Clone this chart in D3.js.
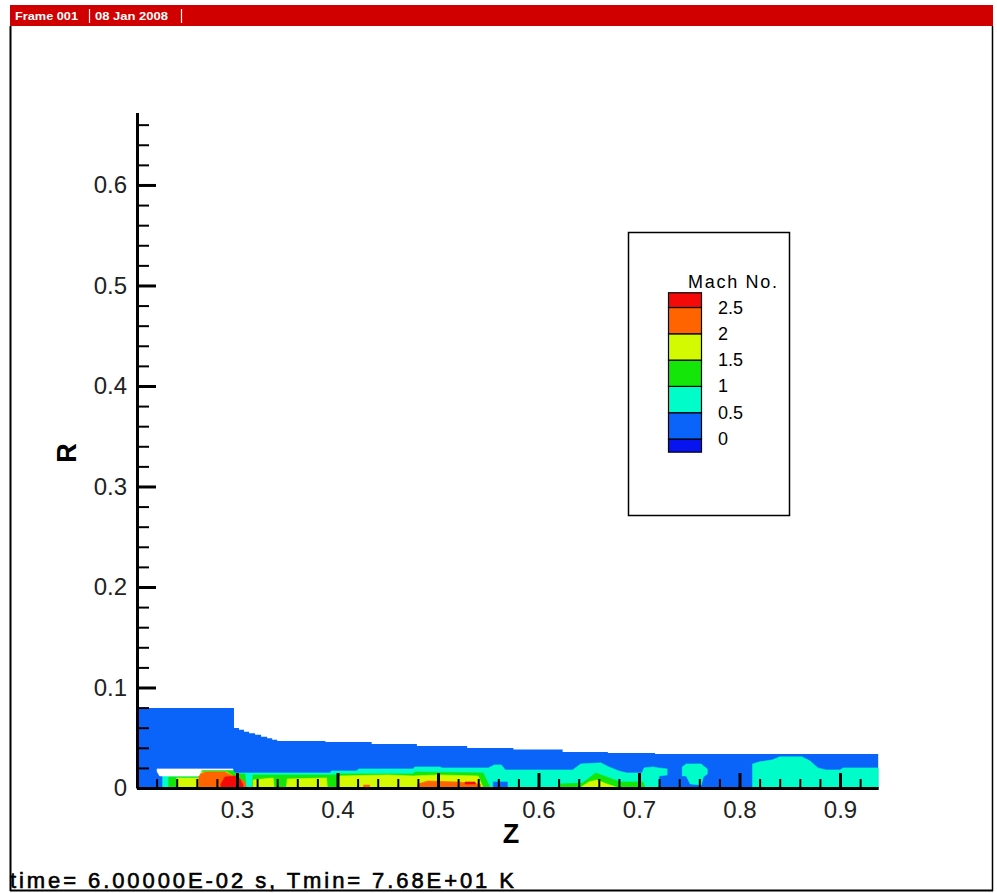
<!DOCTYPE html>
<html><head><meta charset="utf-8">
<script src="https://cdn.jsdelivr.net/npm/d3@7"></script>
<style>
body{margin:0;background:#fff}
svg{display:block}
text{font-family:"Liberation Sans",Arial,Helvetica,sans-serif}
</style>
</head><body>
<svg id="c" width="997" height="893"></svg>
<script>
// ---------------- data ----------------
const machLevels = [0, 0.5, 1, 1.5, 2, 2.5];
const machColors = ["#0814f0", "#0a64fa", "#00fcc8", "#14e60a", "#d4fa00", "#ff6400", "#f50a0a"];
const legendLabels = ["2.5", "2", "1.5", "1", "0.5", "0"];
const legendTitle = "Mach No.";
const headerTexts = ["Frame 001", "08 Jan 2008"];
const footerText = "time= 6.00000E-02 s, Tmin= 7.68E+01 K";
const xTitle = "Z", yTitle = "R";

const xMajor = [0.3, 0.4, 0.5, 0.6, 0.7, 0.8, 0.9];
const xMinor = [0.22,0.24,0.26,0.28,0.32,0.34,0.36,0.38,0.42,0.44,0.46,0.48,0.52,0.54,0.56,0.58,0.62,0.64,0.66,0.68,0.72,0.74,0.76,0.78,0.82,0.84,0.86,0.88,0.92];
const yMajor = [0, 0.1, 0.2, 0.3, 0.4, 0.5, 0.6];
const yMinor = [0.02,0.04,0.06,0.08,0.12,0.14,0.16,0.18,0.22,0.24,0.26,0.28,0.32,0.34,0.36,0.38,0.42,0.44,0.46,0.48,0.52,0.54,0.56,0.58,0.62,0.64,0.66];
const zExtent = [0.2, 0.938];
const rExtent = [0, 0.672];

// outer boundary of the computational domain  [z, r]
const domainTop = [[0.2,0.0796],[0.297,0.0597],[0.302,0.058],[0.307,0.056],[0.312,0.0545],[0.318,0.053],[0.324,0.051],[0.330,0.0495],[0.335,0.048],[0.340,0.0468],[0.388,0.0458],[0.434,0.0438],[0.479,0.0418],[0.529,0.0398],[0.575,0.0383],[0.624,0.0358],[0.669,0.0348],[0.716,0.0338],[0.938,0.0338]];
const domainMach = 0.25;

// Mach bands: segments of [z, rLow, rHigh]
const cyanSegs = [
  [[0.226,0,0.012],[0.262,0,0.012],[0.265,0,0.018],[0.296,0,0.018],[0.297,0,0.015],[0.3925,0,0.015],[0.394,0,0.017],[0.419,0,0.017],[0.421,0,0.019],[0.475,0,0.019],[0.477,0,0.021],[0.502,0,0.021],[0.504,0,0.020],[0.550,0,0.020],[0.556,0,0.023],[0.563,0,0.023],[0.567,0,0.018],[0.634,0,0.018],[0.642,0,0.024],[0.662,0,0.025],[0.670,0,0.021],[0.680,0,0.017],[0.688,0,0.015],[0.703,0,0.015],[0.705,0,0.020],[0.714,0,0.021],[0.719,0,0.020],[0.720,0.012,0.020],[0.728,0.013,0.019]],
  [[0.743,0.012,0.021],[0.747,0.012,0.024],[0.751,0.004,0.024],[0.762,0.003,0.024],[0.764,0.011,0.022],[0.768,0.014,0.019]],
  [[0.813,0,0.024],[0.820,0,0.026],[0.833,0,0.028],[0.840,0,0.031],[0.862,0,0.031],[0.870,0,0.027],[0.878,0,0.020],[0.886,0,0.018],[0.900,0,0.018],[0.903,0,0.020],[0.938,0,0.020]]
];
const greenSegs = [
  [[0.232,0,0.011],[0.262,0,0.011],[0.265,0,0.018],[0.296,0,0.018],[0.298,0,0.014],[0.308,0,0.014],[0.309,0,0]],
  [[0.315,0,0],[0.316,0,0.013],[0.400,0,0.013],[0.402,0,0.014],[0.475,0,0.014],[0.477,0,0.016],[0.545,0,0.015],[0.552,0,0]],
  [[0.621,0,0.004],[0.644,0,0.005],[0.657,0,0.015],[0.681,0,0.006],[0.704,0,0.006],[0.706,0,0]]
];
const yellowSegs = [
  [[0.240,0,0.010],[0.262,0,0.010],[0.265,0,0.016],[0.290,0,0.016],[0.296,0,0.012],[0.297,0,0]],
  [[0.316,0,0.008],[0.336,0,0.010],[0.337,0,0]],
  [[0.349,0,0],[0.350,0,0.009],[0.389,0,0.010],[0.390,0,0]],
  [[0.401,0,0],[0.402,0,0.012],[0.450,0,0.013],[0.475,0,0.012],[0.500,0,0.013],[0.540,0,0.012],[0.545,0,0]],
  [[0.641,0,0],[0.650,0,0.006],[0.658,0,0.008],[0.668,0,0.004],[0.680,0,0]]
];
const orangeSegs = [
  [[0.262,0,0.013],[0.268,0,0.016],[0.288,0,0.016],[0.296,0,0.012],[0.300,0,0.011],[0.308,0,0.006],[0.309,0,0]],
  [[0.426,0,0.003],[0.432,0,0.003]],
  [[0.480,0,0.004],[0.490,0,0.007],[0.520,0,0.006],[0.542,0,0.004],[0.543,0,0]]
];
const redSegs = [
  [[0.284,0,0.004],[0.288,0,0.011],[0.298,0,0.012],[0.303,0,0.009],[0.306,0,0.003]],
  [[0.527,0.004,0.006],[0.537,0.004,0.006]]
];
const bluePatchSegs = [
  [[0.555,0,0.006],[0.569,0,0.006]]
];
// solid (unmeshed) region, left white
const holeSegs = [
  [[0.2205,0.0165,0.019],[0.223,0.012,0.019],[0.262,0.012,0.019],[0.265,0.018,0.019],[0.296,0.018,0.019]]
];

const layers = [
  {mach: 0.75, segs: cyanSegs},
  {mach: 1.25, segs: greenSegs},
  {mach: 1.75, segs: yellowSegs},
  {mach: 2.25, segs: orangeSegs},
  {mach: 2.75, segs: redSegs},
  {mach: 0.25, segs: bluePatchSegs},
  {mach: null, segs: holeSegs}
];

// ---------------- drawing ----------------
const svg = d3.select("#c");
const W = 997, H = 893;
svg.append("rect").attr("width", W).attr("height", H).attr("fill", "#fff");

const x = d3.scaleLinear().domain(zExtent).range([136.5, 878.2]);
const y = d3.scaleLinear().domain(rExtent).range([788, 112.6]);
const color = d3.scaleThreshold().domain(machLevels).range(machColors);

// frame
svg.append("rect").attr("x", 10).attr("y", 5).attr("width", 983).attr("height", 21).attr("fill", "#d00000");
const hdr = svg.append("g").attr("fill", "#fff").attr("font-weight", "bold").attr("font-size", 10);
hdr.append("text").attr("x", 15).attr("y", 19.5).attr("textLength", 63).attr("lengthAdjust", "spacingAndGlyphs").text(headerTexts[0]);
hdr.append("text").attr("x", 95).attr("y", 19.5).attr("textLength", 73).attr("lengthAdjust", "spacingAndGlyphs").text(headerTexts[1]);
[89.5, 181.5].forEach(px => svg.append("line").attr("x1", px).attr("x2", px).attr("y1", 9).attr("y2", 23).attr("stroke", "#fff").attr("stroke-width", 1.2));
svg.append("line").attr("x1", 10.5).attr("x2", 10.5).attr("y1", 26).attr("y2", 891).attr("stroke", "#000").attr("stroke-width", 2);
svg.append("line").attr("x1", 992.5).attr("x2", 992.5).attr("y1", 26).attr("y2", 891).attr("stroke", "#000").attr("stroke-width", 1.5);
svg.append("line").attr("x1", 10).attr("x2", 993).attr("y1", 890.5).attr("y2", 890.5).attr("stroke", "#000").attr("stroke-width", 2);

// field
const field = svg.append("g");
field.append("path")
  .datum(domainTop)
  .attr("d", d3.area().x(d => x(d[0])).y0(y(0)).y1(d => y(d[1])).curve(d3.curveStepAfter))
  .attr("fill", color(domainMach));
const band = d3.area().x(d => x(d[0])).y0(d => y(d[1])).y1(d => y(d[2])).curve(d3.curveLinear);
layers.forEach(L => {
  field.selectAll(null).data(L.segs).enter().append("path")
    .attr("d", band)
    .attr("fill", L.mach === null ? "#fff" : color(L.mach))
    .attr("stroke", L.mach === null ? "#fff" : color(L.mach))
    .attr("stroke-width", 0.6);
});

// axes
const fmt = d => d === 0 ? "0" : d3.format(".1f")(d);
const gx = svg.append("g").attr("transform", `translate(0,${y(0)})`)
  .call(d3.axisBottom(x).tickValues(xMajor).tickSizeInner(-15).tickSizeOuter(0).tickPadding(13).tickFormat(fmt));
const gxm = svg.append("g").attr("transform", `translate(0,${y(0)})`)
  .call(d3.axisBottom(x).tickValues(xMinor).tickSizeInner(-9).tickSizeOuter(0).tickFormat(""));
const gy = svg.append("g").attr("transform", `translate(137,0)`)
  .call(d3.axisLeft(y).tickValues(yMajor).tickSizeInner(-19).tickSizeOuter(0).tickPadding(10).tickFormat(fmt));
const gym = svg.append("g").attr("transform", `translate(137,0)`)
  .call(d3.axisLeft(y).tickValues(yMinor).tickSizeInner(-12).tickSizeOuter(0).tickFormat(""));
[gxm, gym].forEach(g => { g.select(".domain").remove(); g.selectAll(".tick line").attr("stroke", "#000").attr("stroke-width", 2); });
[gx, gy].forEach(g => {
  g.select(".domain").attr("stroke", "#000").attr("stroke-width", 3);
  g.selectAll(".tick line").attr("stroke", "#000").attr("stroke-width", 3);
  g.selectAll(".tick text").attr("font-size", 24).attr("fill", "#222")
    .attr("font-family", '"Liberation Sans",Arial,sans-serif');
});
svg.append("text").attr("x", 511).attr("y", 843).attr("text-anchor", "middle")
  .attr("font-size", 27).attr("font-weight", "bold").text(xTitle);
svg.append("text").attr("transform", "translate(67,453) rotate(-90)").attr("text-anchor", "middle")
  .attr("dominant-baseline", "central").attr("font-size", 27).attr("font-weight", "bold").text(yTitle);

// legend
const lg = svg.append("g");
lg.append("rect").attr("x", 628.5).attr("y", 232.5).attr("width", 161).attr("height", 283)
  .attr("fill", "#fff").attr("stroke", "#000").attr("stroke-width", 1.5);
lg.append("text").attr("x", 688).attr("y", 288).attr("font-size", 18).attr("textLength", 89)
  .attr("lengthAdjust", "spacing").text(legendTitle);
const ly = d3.scaleLinear().domain([0, 2.5]).range([439, 307.5]);
const bounds = [-0.25].concat(machLevels).concat([2.78]);
for (let i = 0; i < machColors.length; i++) {
  lg.append("rect").attr("x", 668.5).attr("width", 33)
    .attr("y", ly(bounds[i + 1])).attr("height", ly(bounds[i]) - ly(bounds[i + 1]))
    .attr("fill", machColors[i]).attr("stroke", "#000").attr("stroke-width", 1.2);
}
const revLevels = machLevels.slice().reverse();
legendLabels.forEach((t, i) => {
  lg.append("text").attr("x", 718).attr("y", ly(revLevels[i])).attr("dominant-baseline", "central")
    .attr("font-size", 18).text(t);
});

// footer
svg.append("text").attr("x", 10).attr("y", 888).attr("font-size", 22).attr("textLength", 504)
  .attr("lengthAdjust", "spacing").attr("stroke", "#000").attr("stroke-width", 0.6).text(footerText);
</script>
</body></html>
